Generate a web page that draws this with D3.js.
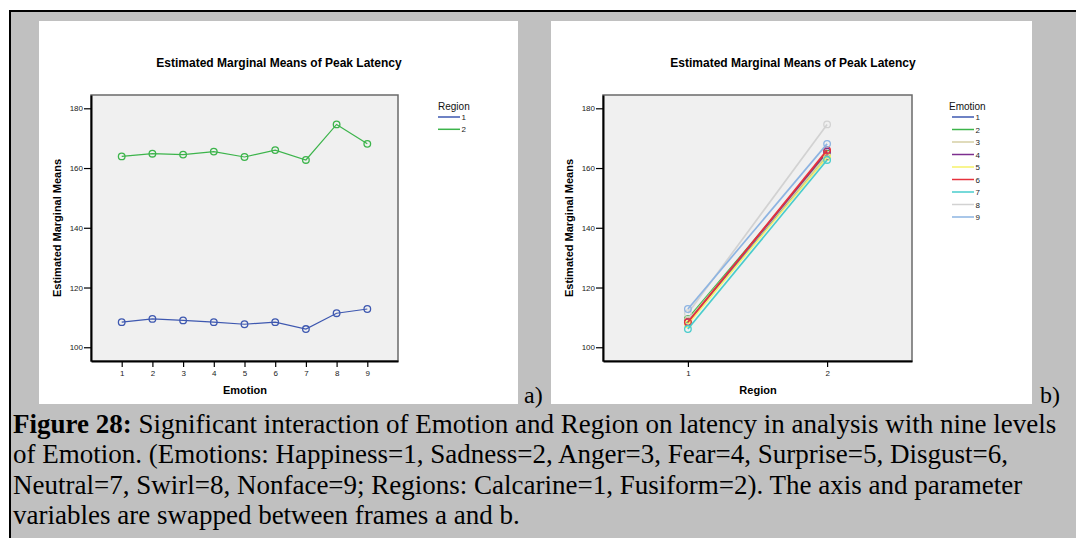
<!DOCTYPE html>
<html>
<head>
<meta charset="utf-8">
<script src="https://cdn.jsdelivr.net/npm/d3@7"></script>
<style>
  html, body { margin: 0; padding: 0; background: #ffffff; }
  svg { display: block; }
</style>
</head>
<body>
<svg id="fig" width="1076" height="538"></svg>
<script>
// ---------- data ----------
const emotions = [1, 2, 3, 4, 5, 6, 7, 8, 9];
const regions = [1, 2];
const region1Means = [108.4, 109.5, 109.0, 108.4, 107.7, 108.4, 106.1, 111.4, 112.8];
const region2Means = [163.9, 164.8, 164.5, 165.5, 163.7, 166.0, 162.7, 174.6, 168.1];
const yTicks = [100, 120, 140, 160, 180];
const regionColors = ["#3e58b0", "#3cb44b"];
const emotionColors = ["#3e58b0", "#3cb44b", "#d6cfa4", "#7d2f8f", "#f6f26a", "#e6323c", "#48cccc", "#d2d2d2", "#8db4e2"];
const chartTitle = "Estimated Marginal Means of Peak Latency";
const yTitle = "Estimated Marginal Means";
const captionLines = [
  [["Figure 28:", true], [" Significant interaction of Emotion and Region on latency in analysis with nine levels", false]],
  [["of Emotion. (Emotions: Happiness=1, Sadness=2, Anger=3, Fear=4, Surprise=5, Disgust=6,", false]],
  [["Neutral=7, Swirl=8, Nonface=9; Regions: Calcarine=1, Fusiform=2). The axis and parameter", false]],
  [["variables are swapped between frames a and b.", false]]
];

const svg = d3.select("#fig");
const sans = "'Liberation Sans', Arial, sans-serif";
const serif = "'Liberation Serif', 'Times New Roman', serif";

// outer frame
svg.append("rect").attr("x", 9).attr("y", 10).attr("width", 1076).attr("height", 540)
  .attr("fill", "#c0c0c0");
svg.append("line").attr("x1", 10).attr("x2", 10).attr("y1", 10).attr("y2", 538)
  .attr("stroke", "#000").attr("stroke-width", 2);
svg.append("line").attr("x1", 9).attr("x2", 1076).attr("y1", 11).attr("y2", 11)
  .attr("stroke", "#000").attr("stroke-width", 2);

const yScale = d3.scaleLinear().domain([95.4, 184.45]).range([361, 95]);

function drawPanel(cfg) {
  const g = svg.append("g");
  g.append("rect").attr("x", cfg.panel[0]).attr("y", 21)
    .attr("width", cfg.panel[1] - cfg.panel[0]).attr("height", 383).attr("fill", "#ffffff");
  const x = d3.scaleLinear().domain(cfg.xDomain).range([cfg.plot[0], cfg.plot[1]]);
  // plot background
  g.append("rect").attr("x", cfg.plot[0]).attr("y", 95)
    .attr("width", cfg.plot[1] - cfg.plot[0]).attr("height", 266)
    .attr("fill", "#f0f0f0").attr("stroke", "#6a6a6a").attr("stroke-width", 1.5);
  // title
  g.append("text").attr("x", cfg.titleX).attr("y", 67).attr("text-anchor", "middle")
    .attr("font-family", sans).attr("font-weight", "bold").attr("font-size", 12)
    .text(chartTitle);
  // axes
  const yAxis = d3.axisLeft(yScale).tickValues(yTicks).tickSize(7).tickSizeOuter(0).tickPadding(1);
  const ya = g.append("g").attr("transform", `translate(${cfg.plot[0]},0)`).call(yAxis);
  const xAxis = d3.axisBottom(x).tickValues(cfg.xTicks).tickSize(6).tickSizeOuter(0).tickPadding(3)
    .tickFormat(d3.format("d"));
  const xa = g.append("g").attr("transform", "translate(0,361)").call(xAxis);
  [ya, xa].forEach(a => {
    a.selectAll("text").attr("font-family", sans).attr("font-size", 8).attr("fill", "#222");
    a.selectAll("line").attr("stroke", "#000").attr("stroke-width", 1.2);
    a.select(".domain").attr("stroke", "#000").attr("stroke-width", 2);
  });
  // axis titles
  g.append("text").attr("x", cfg.xTitleX).attr("y", 394).attr("text-anchor", "middle")
    .attr("font-family", sans).attr("font-weight", "bold").attr("font-size", 11)
    .text(cfg.xTitle);
  g.append("text").attr("transform", `translate(${cfg.yTitleX},228) rotate(-90)`)
    .attr("text-anchor", "middle").attr("font-family", sans).attr("font-weight", "bold")
    .attr("font-size", 11).text(yTitle);
  // series
  const line = d3.line().x(d => x(d[0])).y(d => yScale(d[1]));
  cfg.series.forEach(s => {
    g.append("path").datum(s.pts).attr("d", line).attr("fill", "none")
      .attr("stroke", s.color).attr("stroke-width", cfg.lw);
    g.selectAll(null).data(s.pts).enter().append("circle")
      .attr("cx", d => x(d[0])).attr("cy", d => yScale(d[1])).attr("r", 3.3)
      .attr("fill", "none").attr("stroke", s.color).attr("stroke-width", 1.3);
  });
  // legend
  const lg = g.append("g");
  lg.append("text").attr("x", cfg.legendX).attr("y", 110)
    .attr("font-family", sans).attr("font-size", 10).attr("fill", "#111").text(cfg.legendTitle);
  cfg.series.forEach((s, i) => {
    const yy = 117 + i * cfg.legendStep;
    lg.append("line").attr("x1", cfg.legendLine[0]).attr("x2", cfg.legendLine[1])
      .attr("y1", yy).attr("y2", yy).attr("stroke", s.color).attr("stroke-width", 1.5);
    lg.append("text").attr("x", cfg.legendLine[1] + 1.5).attr("y", yy + 3)
      .attr("font-family", sans).attr("font-size", 8).attr("fill", "#222").text(s.name);
  });
  // panel label
  svg.append("text").attr("x", cfg.label[0]).attr("y", 403)
    .attr("font-family", serif).attr("font-size", 24).text(cfg.label[1]);
}

drawPanel({
  panel: [39, 518], plot: [91, 398], xDomain: [0, 10], xTicks: emotions,
  titleX: 279, xTitle: "Emotion", xTitleX: 245, yTitleX: 61,
  lw: 1.2, legendTitle: "Region", legendX: 438, legendLine: [438, 460], legendStep: 12.3,
  label: [524, "a)"],
  series: regions.map((r, i) => ({
    name: String(r), color: regionColors[i],
    pts: emotions.map((e, j) => [e, (i === 0 ? region1Means : region2Means)[j]])
  }))
});

drawPanel({
  panel: [551, 1032], plot: [603, 912], xDomain: [0.39, 2.61], xTicks: regions,
  titleX: 793, xTitle: "Region", xTitleX: 758, yTitleX: 573,
  lw: 1.7, legendTitle: "Emotion", legendX: 949, legendLine: [952, 974], legendStep: 12.5,
  label: [1040, "b)"],
  series: emotions.map((e, j) => ({
    name: String(e), color: emotionColors[j],
    pts: [[1, region1Means[j]], [2, region2Means[j]]]
  }))
});

// caption
const cap = svg.append("text").attr("font-family", serif).attr("font-size", 27).attr("fill", "#000");
captionLines.forEach((parts, i) => {
  parts.forEach((p, k) => {
    const t = cap.append("tspan").attr("font-weight", p[1] ? "bold" : "normal").text(p[0]);
    if (k === 0) t.attr("x", 13).attr("y", 433 + i * 30.4);
  });
});
</script>
</body>
</html>
